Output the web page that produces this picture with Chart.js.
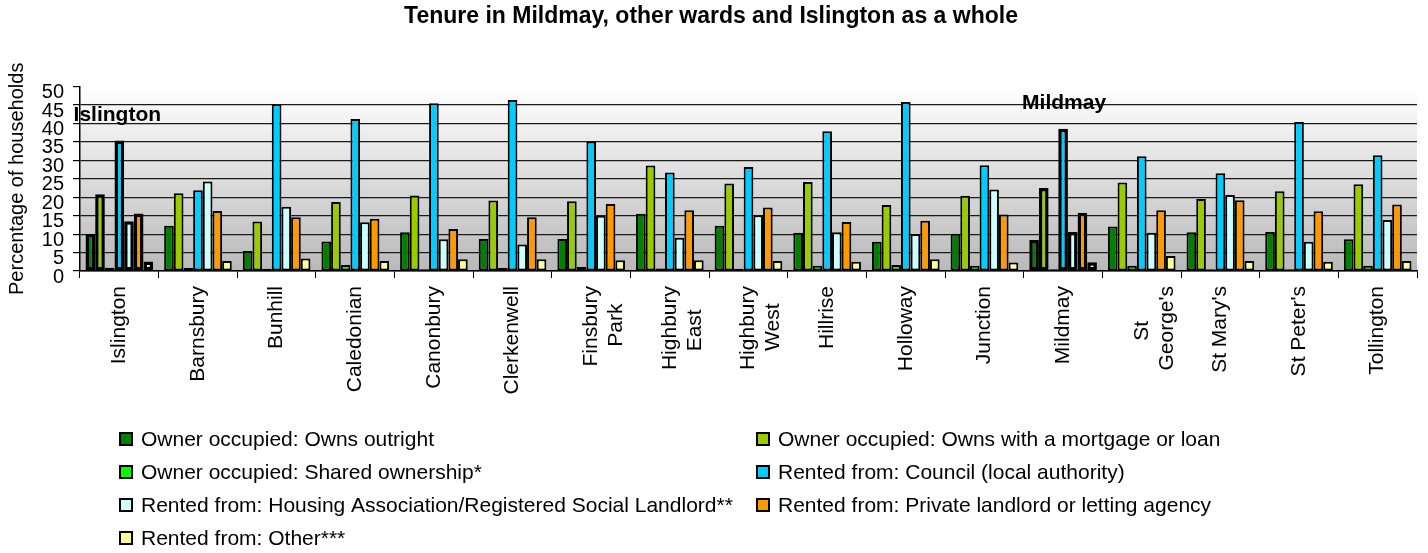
<!DOCTYPE html>
<html>
<head>
<meta charset="utf-8">
<script src="https://cdn.jsdelivr.net/npm/chart.js@4"></script>
<style>
  body { margin: 0; background: #fff; }
  #wrap { width: 1428px; height: 553px; position: relative; }
</style>
</head>
<body>
<div id="wrap"><canvas id="tenureChart"></canvas></div>
<script>
const wards = ['Islington', 'Barnsbury', 'Bunhill', 'Caledonian', 'Canonbury', 'Clerkenwell',
    ['Finsbury', 'Park'], ['Highbury', 'East'], ['Highbury', 'West'], 'Hillrise', 'Holloway',
    'Junction', 'Mildmay', ['St', "George's"], "St Mary's", "St Peter's", 'Tollington'];

const ownsOutright    = [10.0, 12.3, 5.4, 8.0, 10.5, 8.7, 8.7, 15.5, 12.3, 10.4, 7.9, 10.1, 8.4, 12.1, 10.5, 10.6, 8.6];
const ownsMortgage    = [20.8, 21.1, 13.4, 18.7, 20.5, 19.1, 18.9, 28.6, 23.7, 24.1, 17.9, 20.4, 22.5, 24.0, 19.5, 21.6, 23.5];
const sharedOwnership = [0.9, 0.8, 0.6, 1.6, 0.5, 0.8, 1.1, 0.7, 0.6, 1.4, 1.6, 1.4, 0.5, 1.4, 0.5, 0.5, 1.4];
const council         = [35.4, 21.9, 45.2, 41.2, 45.5, 46.4, 35.1, 26.7, 28.2, 37.9, 45.8, 28.7, 38.6, 31.1, 26.5, 40.4, 31.4];
const housingAssoc    = [13.5, 24.3, 17.4, 13.2, 8.6, 7.2, 15.0, 9.0, 15.1, 10.5, 10.0, 22.1, 10.6, 10.4, 20.6, 7.9, 13.8];
const privateLandlord = [15.6, 16.3, 14.6, 14.2, 11.4, 14.6, 18.2, 16.5, 17.2, 13.3, 13.6, 15.3, 15.8, 16.5, 19.2, 16.2, 18.0];
const otherRented     = [2.6, 2.7, 3.4, 2.7, 3.2, 3.2, 2.9, 2.9, 2.7, 2.5, 3.2, 2.3, 2.4, 4.1, 2.7, 2.5, 2.7];

const seriesNames = [
    'Owner occupied: Owns outright',
    'Owner occupied: Owns with a mortgage or loan',
    'Owner occupied: Shared ownership*',
    'Rented from: Council (local authority)',
    'Rented from: Housing Association/Registered Social Landlord**',
    'Rented from: Private landlord or letting agency',
    'Rented from: Other***'
];
const seriesColors = ['#008000', '#99cc00', '#00ff00', '#00ccff', '#ccffff', '#ff9900', '#ffff99'];
const yTicks = [0, 5, 10, 15, 20, 25, 30, 35, 40, 45, 50];
const highlighted = ['Islington', 'Mildmay'];

const FONT = "'Liberation Sans', Arial, sans-serif";
const seriesValues = [ownsOutright, ownsMortgage, sharedOwnership, council, housingAssoc, privateLandlord, otherRented];

const datasets = seriesValues.map((values, i) => ({
    label: seriesNames[i],
    data: values,
    backgroundColor: seriesColors[i],
    borderColor: '#000',
    borderWidth: wards.map(w => highlighted.includes(w) ? 3.5 : 2),
    borderSkipped: false,
    categoryPercentage: 0.86,
    barPercentage: 1.0
}));

// used to centre the shorter line of two-line ward names
const measureCtx = document.createElement('canvas').getContext('2d');
measureCtx.font = '21px ' + FONT;
const spaceWidth = measureCtx.measureText(' ').width;

function wardLabel(index) {
    const label = wards[index];
    if (!Array.isArray(label)) return label;
    const widths = label.map(l => measureCtx.measureText(l).width);
    const widest = Math.max(...widths);
    return label.map((l, i) => l + ' '.repeat(Math.round((widest - widths[i]) / 2 / spaceWidth)));
}

// grey plot background, white at the top
const plotBackground = {
    id: 'plotBackground',
    beforeDraw(chart) {
        const { ctx, chartArea: a } = chart;
        const g = ctx.createLinearGradient(0, a.top, 0, a.bottom);
        g.addColorStop(0, '#ffffff');
        g.addColorStop(1, '#b9b9b9');
        ctx.save();
        ctx.fillStyle = g;
        ctx.fillRect(a.left, a.top, a.right - a.left, a.bottom - a.top);
        ctx.restore();
    }
};

// bold names over Islington and Mildmay
const wardNames = {
    id: 'wardNames',
    afterDraw(chart) {
        const { ctx } = chart;
        const x = chart.scales.x, y = chart.scales.y;
        ctx.save();
        ctx.font = 'bold 21px ' + FONT;
        ctx.fillStyle = '#000';
        ctx.textAlign = 'center';
        ctx.textBaseline = 'middle';
        ctx.fillText('Islington', x.getPixelForValue(0) - 2, y.getPixelForValue(42.2));
        ctx.fillText('Mildmay', x.getPixelForValue(12) + 1, y.getPixelForValue(45.4));
        ctx.restore();
    }
};

// two column legend under the axis labels
const columnLegend = {
    id: 'columnLegend',
    afterDraw(chart) {
        const { ctx } = chart;
        ctx.save();
        ctx.font = '21px ' + FONT;
        ctx.textBaseline = 'middle';
        chart.data.datasets.forEach((ds, i) => {
            const bx = i % 2 === 0 ? 120 : 757;
            const by = 439 + Math.floor(i / 2) * 33;
            ctx.fillStyle = ds.backgroundColor;
            ctx.fillRect(bx, by - 6, 12, 12);
            ctx.strokeStyle = '#000';
            ctx.lineWidth = 2;
            ctx.strokeRect(bx, by - 6, 12, 12);
            ctx.fillStyle = '#000';
            ctx.fillText(ds.label, bx + 21, by + 1);
        });
        ctx.restore();
    }
};

new Chart(document.getElementById('tenureChart'), {
    type: 'bar',
    data: { labels: wards, datasets: datasets },
    plugins: [plotBackground, wardNames, columnLegend],
    options: {
        responsive: true,
        maintainAspectRatio: false,
        animation: false,
        layout: { padding: { left: 5, right: 11, top: 0, bottom: 140 } },
        plugins: {
            legend: { display: false },
            tooltip: { enabled: false },
            title: {
                display: true,
                text: 'Tenure in Mildmay, other wards and Islington as a whole',
                color: '#000',
                font: { family: FONT, size: 23, weight: 'bold' },
                padding: { top: 3, bottom: 56 }
            }
        },
        scales: {
            x: {
                offset: true,
                grid: { display: true, drawOnChartArea: false, offset: true, color: '#000', tickLength: 7 },
                border: { display: true, color: '#000', width: 1.5 },
                ticks: {
                    color: '#000',
                    font: { family: FONT, size: 21 },
                    minRotation: 90,
                    maxRotation: 90,
                    padding: 8,
                    autoSkip: false,
                    callback: (value, index) => wardLabel(index)
                },
                afterFit(scale) { scale.height = 553 - 140 - 271; }
            },
            y: {
                min: 0,
                max: 50,
                afterBuildTicks(scale) { scale.ticks = yTicks.map(v => ({ value: v })); },
                grid: {
                    color: ctx => ctx.tick && ctx.tick.value === 50 ? 'rgba(0,0,0,0)' : '#1a1a1a',
                    tickColor: '#000',
                    tickLength: 7,
                    lineWidth: 1.2
                },
                border: { display: true, color: '#000', width: 1.5 },
                ticks: {
                    color: '#000',
                    font: { family: FONT, size: 20 },
                    padding: 9,
                    labelOffset: 6,
                    autoSkip: false
                },
                title: {
                    display: true,
                    text: 'Percentage of households',
                    color: '#000',
                    font: { family: FONT, size: 20 },
                    padding: { top: 0, bottom: 4 }
                },
                afterFit(scale) { scale.width = 75; }
            }
        }
    }
});
</script>
</body>
</html>
